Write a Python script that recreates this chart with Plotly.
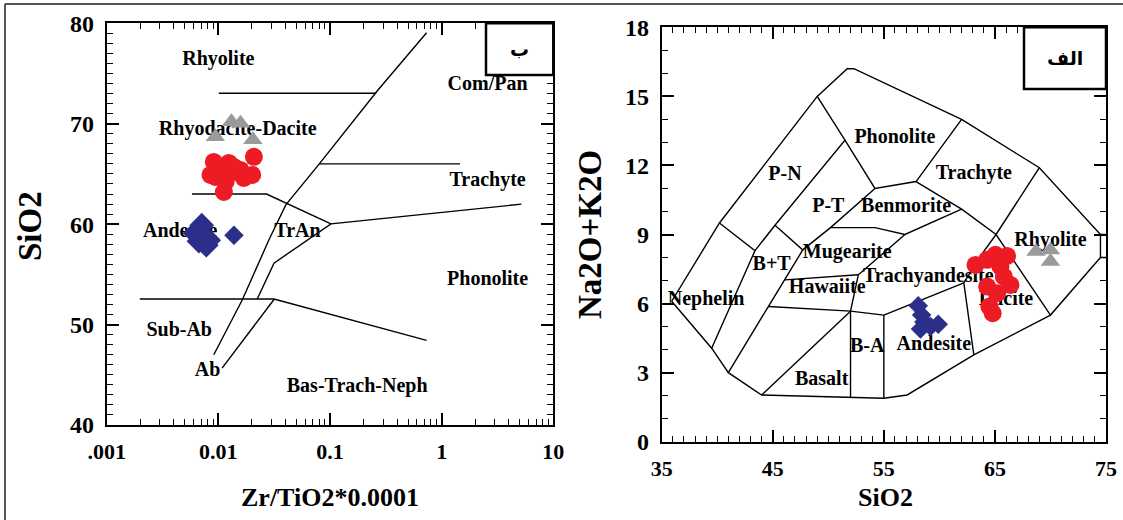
import plotly.graph_objects as go

W, H = 1123, 520

# ---------------- Winchester & Floyd panel (Zr/TiO2*0.0001 vs SiO2) ----------------
wf_tri_x = [0.0094, 0.0131, 0.0158, 0.0204]
wf_tri_y = [68.7, 70.2, 70.05, 68.4]

wf_circ_x = [0.0091, 0.0085, 0.0101, 0.0124, 0.0138, 0.0158, 0.0208,
             0.0201, 0.0169, 0.0116, 0.0112, 0.0094, 0.0128]
wf_circ_y = [66.2, 64.9, 65.6, 66.1, 65.7, 65.4, 66.7,
             64.9, 64.6, 64.2, 63.2, 64.7, 65.1]

wf_dia_x = [0.0071, 0.0062, 0.0067, 0.0082, 0.0078]
wf_dia_y = [59.9, 59.1, 58.3, 58.4, 57.9]
wf_dia2_x = [0.0138]
wf_dia2_y = [58.9]

# field boundaries
wf_lines = [
    ([0.0091, 0.0164, 0.0284, 0.0402, 0.0802, 0.269, 0.733],
     [47.0, 52.47, 58.44, 61.92, 66.0, 73.36, 79.06]),
    ([0.0108, 0.0315], [45.67, 52.5]),
    ([0.0223, 0.0315, 0.102, 5.18], [52.54, 56.12, 60.03, 61.99]),
    ([0.0058, 0.0270, 0.102], [63.0, 63.0, 60.03]),
    ([0.0101, 0.259], [73.03, 73.03]),
    ([0.0802, 1.46], [66.0, 66.0]),
    ([0.00198, 0.0315, 0.733], [52.54, 52.54, 48.42]),
]

wf_labels = ["Rhyolite", "Com/Pan", "Rhyodacite-Dacite", "Trachyte", "Andesite",
             "TrAn", "Phonolite", "Sub-Ab", "Ab", "Bas-Trach-Neph"]
wf_lab_x = [0.0100, 2.58, 0.0149, 2.58, 0.00455, 0.0512, 2.58, 0.00446, 0.0080, 0.175]
wf_lab_y = [76.35, 73.9, 69.4, 64.3, 59.26, 59.26, 54.46, 49.38, 45.33, 43.74]

# ---------------- TAS panel (SiO2 vs Na2O+K2O) ----------------
tas_tri_x = [68.7, 70.0, 70.0]
tas_tri_y = [8.26, 8.33, 7.83]

tas_circ_x = [63.25, 64.3, 65.05, 66.1, 65.5, 66.4, 65.8, 64.3, 65.2, 64.8, 64.5]
tas_circ_y = [7.68, 7.9, 8.12, 8.07, 7.6, 6.81, 7.17, 6.74, 6.45, 5.58, 5.87]

tas_dia_x = [58.1, 58.4, 58.6, 58.3, 59.2, 59.9]
tas_dia_y = [5.9, 5.5, 5.2, 4.9, 5.0, 5.1]

tas_lines = [
    # outer envelope
    ([35.9, 40.2, 49.0, 51.7, 52.3, 62.0, 69.0, 74.5, 74.5, 70.0, 63.1, 57.1, 55.0, 52.0, 44.0, 41.0, 39.5, 35.9],
     [6.1, 9.5, 15.0, 16.2, 16.2, 14.0, 11.9, 9.0, 8.0, 5.5, 3.77, 2.03, 1.89, 1.93, 2.03, 3.0, 4.06, 6.1]),
    ([74.5, 75.0], [9.0, 9.0]),
    ([74.5, 75.0], [8.0, 8.0]),
    ([40.2, 43.4, 39.5], [9.5, 8.3, 4.06]),
    ([43.4, 45.2, 51.5, 49.0], [8.3, 9.4, 13.1, 15.0]),
    ([51.5, 54.2, 57.9, 62.0], [13.1, 11.0, 11.3, 14.0]),
    ([45.2, 47.7, 44.6, 41.0], [9.4, 8.33, 5.87, 3.0]),
    ([47.7, 50.2, 54.2], [8.33, 9.3, 11.0]),
    ([50.2, 54.2, 56.9, 62.0, 57.9], [9.3, 9.3, 9.0, 10.1, 11.3]),
    ([62.0, 65.1, 70.0], [10.1, 9.0, 5.5]),
    ([69.0, 65.1, 63.6, 62.2, 63.1], [11.9, 9.0, 8.0, 6.9, 3.77]),
    ([55.0, 62.2], [5.5, 6.9]),
    ([52.0, 52.7, 56.9], [5.67, 7.25, 9.0]),
    ([46.1, 52.7], [7.03, 7.25]),
    ([44.6, 52.0, 55.0], [5.87, 5.67, 5.5]),
    ([44.0, 52.0], [2.03, 5.67]),
    ([52.0, 52.0], [1.93, 5.67]),
    ([55.0, 55.0], [1.89, 5.5]),
]

tas_labels = ["P-N", "Phonolite", "Trachyte", "P-T", "Benmorite", "Rhyolite", "Mugearite",
              "B+T", "Trachyandesite", "Hawaiite", "Nephelin", "Dacite", "B-A", "Andesite", "Basalt"]
tas_lab_x = [46.1, 56.0, 63.1, 50.0, 57.0, 70.0, 51.7, 44.9, 59.0, 49.9, 39.0, 66.0, 53.5, 59.5, 49.4]
tas_lab_y = [11.6, 13.2, 11.64, 10.2, 10.2, 8.7, 8.2, 7.68, 7.17, 6.67, 6.16, 6.16, 4.13, 4.2, 2.68]

RED = "#ED1C24"
GRAY = "#9A9A9A"
NAVY = "#2B2F8A"
SERIF = "Liberation Serif, Times New Roman, serif"


def px(x):
    return x / W


def py(y):
    return 1 - y / H


fig = go.Figure()

for xs, ys in wf_lines:
    fig.add_trace(go.Scatter(x=xs, y=ys, mode="lines", line=dict(color="black", width=1.4),
                             xaxis="x", yaxis="y", hoverinfo="skip"))
for xs, ys in tas_lines:
    fig.add_trace(go.Scatter(x=xs, y=ys, mode="lines", line=dict(color="black", width=1.4),
                             xaxis="x2", yaxis="y2", hoverinfo="skip"))

# region names
fig.add_trace(go.Scatter(x=wf_lab_x, y=wf_lab_y, mode="text", text=wf_labels,
                         textfont=dict(family=SERIF, size=20, color="black", weight="bold"),
                         xaxis="x", yaxis="y", hoverinfo="skip"))
fig.add_trace(go.Scatter(x=tas_lab_x, y=tas_lab_y, mode="text", text=tas_labels,
                         textfont=dict(family=SERIF, size=20, color="black", weight="bold"),
                         xaxis="x2", yaxis="y2", hoverinfo="skip"))

# samples - left panel
fig.add_trace(go.Scatter(x=wf_tri_x, y=wf_tri_y, mode="markers",
                         marker=dict(symbol="triangle-up", size=17, color=GRAY), xaxis="x", yaxis="y"))
fig.add_trace(go.Scatter(x=wf_circ_x, y=wf_circ_y, mode="markers",
                         marker=dict(symbol="circle", size=18, color=RED), xaxis="x", yaxis="y"))
fig.add_trace(go.Scatter(x=wf_dia_x, y=wf_dia_y, mode="markers",
                         marker=dict(symbol="diamond", size=19, color=NAVY), xaxis="x", yaxis="y"))
fig.add_trace(go.Scatter(x=wf_dia2_x, y=wf_dia2_y, mode="markers",
                         marker=dict(symbol="diamond", size=15, color=NAVY), xaxis="x", yaxis="y"))

# samples - right panel
fig.add_trace(go.Scatter(x=tas_tri_x, y=tas_tri_y, mode="markers",
                         marker=dict(symbol="triangle-up", size=17, color=GRAY), xaxis="x2", yaxis="y2"))
fig.add_trace(go.Scatter(x=tas_circ_x, y=tas_circ_y, mode="markers",
                         marker=dict(symbol="circle", size=18, color=RED), xaxis="x2", yaxis="y2"))
fig.add_trace(go.Scatter(x=tas_dia_x, y=tas_dia_y, mode="markers",
                         marker=dict(symbol="diamond", size=15, color=NAVY), xaxis="x2", yaxis="y2"))

tickfont_y = dict(family=SERIF, size=24, color="black", weight="bold")
tickfont_x = dict(family=SERIF, size=22, color="black", weight="bold")

log_minor = [k * 10 ** d for d in (-3, -2, -1, 0) for k in range(2, 10)]

axis_common = dict(showgrid=False, zeroline=False, showline=True, linecolor="black", linewidth=2,
                   ticks="inside", tickcolor="black", tickwidth=1.5, mirror="allticks",
                   automargin=False, fixedrange=True)

fig.update_layout(
    width=W, height=H,
    margin=dict(l=0, r=0, t=0, b=0),
    paper_bgcolor="white", plot_bgcolor="white",
    showlegend=False,
    xaxis=dict(axis_common, type="log", range=[-3, 1], domain=[px(106.7), px(553.3)], anchor="y",
               tickvals=[0.001, 0.01, 0.1, 1, 10], ticktext=[".001", "0.01", "0.1", "1", "10"],
               ticklen=12, tickfont=tickfont_x, ticklabelstandoff=6,
               minor=dict(tickvals=log_minor, ticks="inside", ticklen=6, tickcolor="black", tickwidth=1.2)),
    yaxis=dict(axis_common, range=[40, 80], domain=[py(425), py(23.3)], anchor="x",
               tickvals=[40, 50, 60, 70, 80], ticklen=12, tickfont=tickfont_y, ticklabelstandoff=6,
               minor=dict(dtick=1, ticks="inside", ticklen=6, tickcolor="black", tickwidth=1.2)),
    xaxis2=dict(axis_common, range=[35, 75], domain=[px(661.7), px(1106)], anchor="y2",
                tickvals=[35, 45, 55, 65, 75], ticklen=12, tickfont=tickfont_x, ticklabelstandoff=6,
                minor=dict(dtick=1, ticks="inside", ticklen=6, tickcolor="black", tickwidth=1.2)),
    yaxis2=dict(axis_common, range=[0, 18], domain=[py(441.7), py(27.3)], anchor="x2",
                tickvals=[0, 3, 6, 9, 12, 15, 18], ticklen=12, tickfont=tickfont_y, ticklabelstandoff=6,
                minor=dict(dtick=1, ticks="inside", ticklen=6, tickcolor="black", tickwidth=1.2)),
)

shapes = [
    # panel tags
    dict(type="rect", xref="paper", yref="paper", x0=px(486), x1=px(553.3), y0=py(75), y1=py(23.3),
         line=dict(color="black", width=2.5), fillcolor="white"),
    dict(type="rect", xref="paper", yref="paper", x0=px(1024), x1=px(1106), y0=py(89), y1=py(27.3),
         line=dict(color="black", width=2.5), fillcolor="white"),
    # page frame
    dict(type="line", xref="paper", yref="paper", x0=px(5), x1=px(5), y0=0, y1=py(4),
         line=dict(color="#555555", width=2)),
    dict(type="line", xref="paper", yref="paper", x0=px(5), x1=1, y0=py(4), y1=py(4),
         line=dict(color="#555555", width=2)),
]
fig.update_layout(shapes=shapes)

title_font = dict(family=SERIF, size=26, color="black", weight="bold")
ytitle_font = dict(family=SERIF, size=33, color="black", weight="bold")
arabic_font = dict(family="DejaVu Sans, Noto Sans", size=19, color="black", weight="bold")

annotations = [
    dict(text="ب", x=px(519.6), y=py(49), font=arabic_font),
    dict(text="الف", x=px(1065), y=py(58), font=arabic_font),
    dict(text="Zr/TiO2*0.0001", x=px(330), y=py(497), font=title_font),
    dict(text="SiO2", x=px(885), y=py(497), font=title_font),
    dict(text="SiO2", x=px(30), y=py(226), font=ytitle_font, textangle=-90),
    dict(text="Na2O+K2O", x=px(590), y=py(235), font=ytitle_font, textangle=-90),
]
for a in annotations:
    a.update(xref="paper", yref="paper", showarrow=False, xanchor="center", yanchor="middle")
fig.update_layout(annotations=annotations)

fig.write_html("out.html")
